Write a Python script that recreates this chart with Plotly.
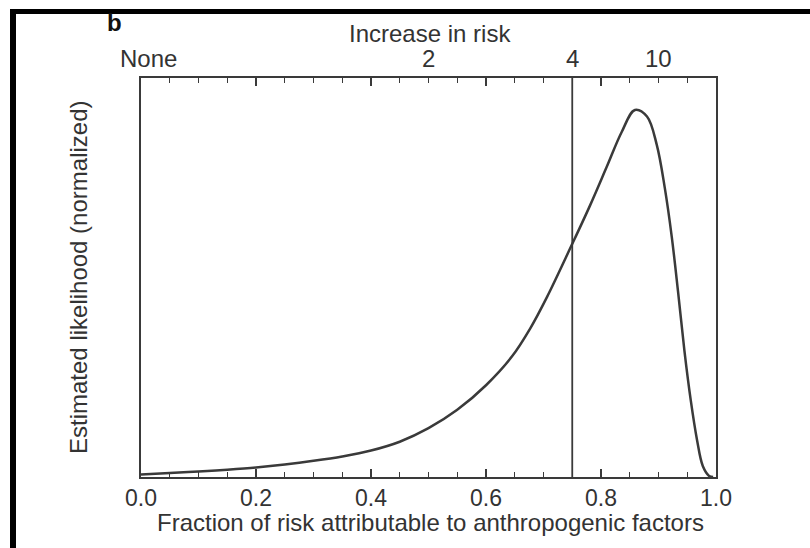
import plotly.graph_objects as go

# Data
fraction = [0.00, 0.05, 0.10, 0.15, 0.20, 0.25, 0.30, 0.35, 0.40, 0.45, 0.50,
            0.55, 0.60, 0.645, 0.677, 0.706, 0.747, 0.781, 0.81, 0.836, 0.859,
            0.88, 0.897, 0.911, 0.923, 0.934, 0.945, 0.956, 0.967, 0.977,
            0.988, 0.995]
likelihood = [0.007, 0.011, 0.015, 0.020, 0.026, 0.034, 0.044, 0.056, 0.072,
              0.096, 0.133, 0.183, 0.250, 0.328, 0.405, 0.490, 0.625, 0.740,
              0.845, 0.940, 1.0, 0.982, 0.905, 0.787, 0.655, 0.505, 0.345,
              0.210, 0.101, 0.030, 0.003, 0.0]

bottom_ticks = [0.0, 0.2, 0.4, 0.6, 0.8, 1.0]
risk_labels = ["None", "2", "4", "10"]
risk_ratios = [1, 2, 4, 10]
marked_risk = 4

FONT = "Liberation Sans, Arial, Helvetica, sans-serif"
TXT = "#333333"
LN = "#3a3a3a"

fig = go.Figure()
fig.add_trace(go.Scatter(x=fraction, y=likelihood, mode="lines",
                         line=dict(color=LN, width=2.5, shape="spline", smoothing=1.0),
                         hoverinfo="skip", showlegend=False))

fig.update_layout(
    width=810, height=548,
    margin=dict(l=141, r=94, t=78, b=71),
    paper_bgcolor="white", plot_bgcolor="white",
    font=dict(family=FONT, color=TXT, size=24),
    xaxis=dict(range=[0, 1], showgrid=False, zeroline=False,
               showline=True, linecolor=LN, linewidth=1.5, mirror="ticks",
               ticks="inside", ticklen=8, tickwidth=1.5, tickcolor=LN,
               tickvals=bottom_ticks, ticktext=[f"{v:.1f}" for v in bottom_ticks],
               tickfont=dict(size=23, color=TXT),
               minor=dict(ticks="inside", ticklen=5, tickwidth=1.2, tickcolor=LN,
                          dtick=0.05, tick0=0, showgrid=False)),
    yaxis=dict(range=[0, 1.087], showgrid=False, zeroline=False,
               showline=True, linecolor=LN, linewidth=1.5, mirror=True,
               ticks="", showticklabels=False),
)

# vertical marker line at risk increase of 4
fig.add_shape(type="line", xref="x", yref="paper",
              x0=1 - 1 / marked_risk, x1=1 - 1 / marked_risk, y0=0, y1=1,
              line=dict(color=LN, width=1.8))

# top axis labels (risk increase)
for lab, r in zip(risk_labels, risk_ratios):
    fig.add_annotation(x=1 - 1 / r, y=1, xref="x", yref="paper",
                       text=lab, showarrow=False, yanchor="bottom",
                       yshift=4, xshift=7 if lab == "None" else 0,
                       font=dict(size=24, color=TXT))

fig.add_annotation(x=0.503, y=1, xref="paper", yref="paper", yanchor="bottom",
                   yshift=29, text="Increase in risk", showarrow=False,
                   font=dict(size=24, color=TXT))
fig.add_annotation(x=0.503, y=0, xref="paper", yref="paper", yanchor="top",
                   yshift=-30, text="Fraction of risk attributable to anthropogenic factors",
                   showarrow=False, font=dict(size=24, color=TXT))
fig.add_annotation(x=0, y=0.5, xref="paper", yref="paper", xanchor="right",
                   xshift=-47, textangle=-90,
                   text="Estimated likelihood (normalized)", showarrow=False,
                   font=dict(size=24, color=TXT))
fig.add_annotation(x=0, y=1, xref="paper", yref="paper", xanchor="left",
                   yanchor="bottom", xshift=-36, yshift=40, text="<b>b</b>",
                   showarrow=False, font=dict(size=24, color="#111111"))

# black frame (left and top bars)
fig.add_shape(type="rect", xref="paper", yref="paper",
              x0=(10 - 141) / 575, x1=(16 - 141) / 575,
              y0=(477 - 548) / 399, y1=(477 - 9) / 399,
              fillcolor="black", line=dict(width=0))
fig.add_shape(type="rect", xref="paper", yref="paper",
              x0=(10 - 141) / 575, x1=(810 - 141) / 575,
              y0=(477 - 14) / 399, y1=(477 - 9) / 399,
              fillcolor="black", line=dict(width=0))

fig.write_html("out.html", config={"displayModeBar": False},
               post_script="document.body.style.margin='0';")
